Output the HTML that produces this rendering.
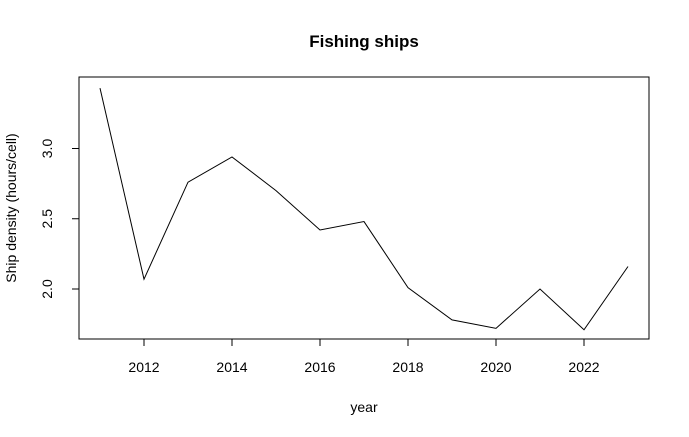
<!DOCTYPE html>
<html><head><meta charset="utf-8"><style>
body{margin:0;background:#fff;}
svg{display:block;font-family:"Liberation Sans",Arial,sans-serif;}
</style></head><body>
<svg id="chart" width="689" height="437" viewBox="0 0 689 437">
<text x="364" y="47" text-anchor="middle" font-size="17" font-weight="bold">Fishing ships</text>
<rect x="79" y="77" width="570" height="262" fill="none" stroke="#000" stroke-width="1"/>
<g id="xaxis"></g>
<g id="yaxis"></g>
<text x="364" y="412" text-anchor="middle" font-size="14">year</text>
<text transform="translate(16,208) rotate(-90)" text-anchor="middle" font-size="14">Ship density (hours/cell)</text>
<g id="series"></g>
</svg>
<script>
const years=[2011,2012,2013,2014,2015,2016,2017,2018,2019,2020,2021,2022,2023];
const density=[3.43,2.07,2.76,2.94,2.70,2.42,2.48,2.01,1.78,1.72,2.00,1.71,2.16];
const xTicks=[2012,2014,2016,2018,2020,2022];
const yTicks=[2.0,2.5,3.0];
const yTickLabels=["2.0","2.5","3.0"];
const NS="http://www.w3.org/2000/svg";
function sx(v){return 100+(v-2011)*44;}
function sy(v){return 289-(v-2)*140.5;}
function mk(t,a,p){const e=document.createElementNS(NS,t);for(const k in a)e.setAttribute(k,a[k]);p.appendChild(e);return e;}
const xa=document.getElementById('xaxis');
mk('line',{x1:sx(xTicks[0]),x2:sx(xTicks[xTicks.length-1]),y1:339,y2:339,stroke:'#000'},xa);
xTicks.forEach(t=>{
  const l=mk('line',{x1:sx(t),x2:sx(t),y1:339,y2:346,stroke:'#000'},xa);
  
  
  const tx=mk('text',{x:sx(t),y:372,'text-anchor':'middle','font-size':'14'},xa);
  tx.textContent=t;
  
  
});
const ya=document.getElementById('yaxis');
mk('line',{x1:79,x2:79,y1:sy(yTicks[0]),y2:sy(yTicks[yTicks.length-1]),stroke:'#000'},ya);
yTicks.forEach((t,i)=>{
  const l=mk('line',{x1:72,x2:79,y1:sy(t),y2:sy(t),stroke:'#000'},ya);
  
  
  const tx=mk('text',{transform:`translate(52,${sy(t)}) rotate(-90)`,'text-anchor':'middle','font-size':'14'},ya);
  tx.textContent=yTickLabels[i];
  
  
});
const s=document.getElementById('series');
const pl=mk('polyline',{points:years.map((y,i)=>sx(y)+','+sy(density[i])).join(' '),fill:'none',stroke:'#000','stroke-width':'1'},s);


</script>
</body></html>
